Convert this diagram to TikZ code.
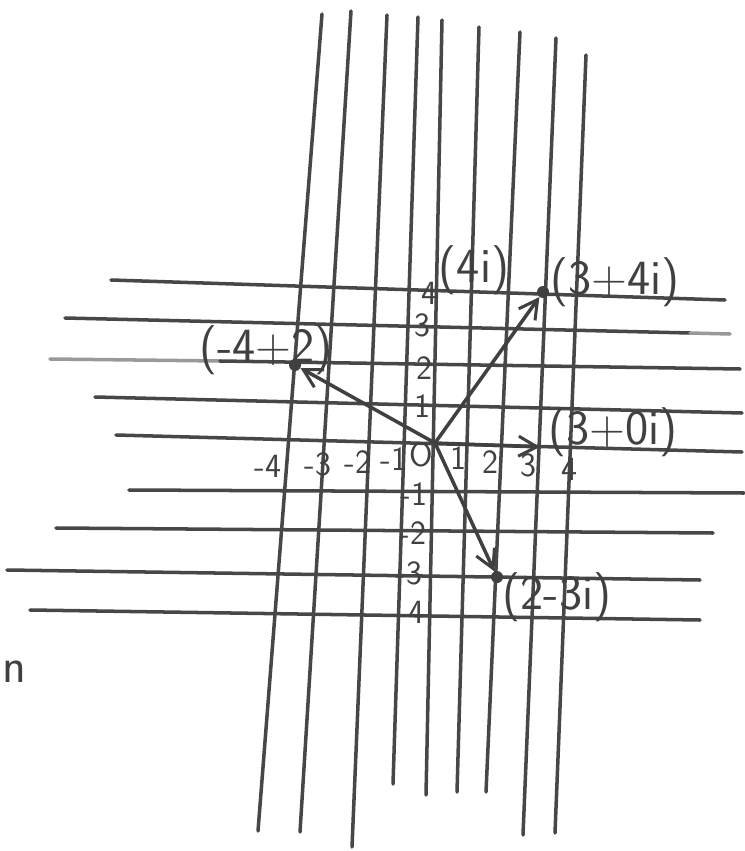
\documentclass[tikz,border=0pt]{standalone}
\usepackage{tikz}
\usetikzlibrary{arrows.meta}

\begin{document}
\begin{tikzpicture}[
  x=0.03cm, y=-0.03cm,
  >={Straight Barb[length=5.5mm,width=6mm,line width=2.6pt]},
  grid/.style={line width=3pt, draw=black!72, line cap=round},
  pale/.style={line width=3pt, draw=black!40, line cap=round},
  e/.style={->, line width=3pt, draw=black!75},
  dot/.style={circle, fill=black!75, inner sep=0pt, minimum size=3.6mm},
  tick/.style={font=\sffamily\fontsize{29}{31}\selectfont, text=black!75, inner sep=0.5pt},
  pt/.style={font=\sffamily\fontsize{42}{46}\selectfont, text=black!75, inner sep=1pt},
]
\useasboundingbox (0,0) rectangle (744,851);
% vertical grid lines
\draw[grid] (322,14) -- (258,831);
\draw[grid] (351,11) -- (300,832);
\draw[grid] (387,15) -- (352,847);
\draw[grid] (418,17) -- (393,784);
\draw[grid] (442,20) -- (426,795);
\draw[grid] (479,27) -- (457,792);
\draw[grid] (520,32) -- (486,792);
\draw[grid] (556,38) -- (523,835);
\draw[grid] (586,55) -- (555,833);
% horizontal grid lines
\draw[grid] (111,280) -- (725,300);
\draw[grid] (65,318) -- (690,333);
\draw[pale] (690,333) -- (730,334);
\draw[pale] (50,359) -- (220,361);
\draw[grid] (220,361) -- (740,369);
\draw[grid] (95,397) -- (742,413);
\draw[grid] (116,435) -- (742,452);
\draw[grid] (129,490) -- (744,493);
\draw[grid] (56,528) -- (713,533);
\draw[grid] (7,570) -- (700,580);
\draw[grid] (30,610) -- (700,620);

% points
\coordinate (O) at (435,443);
\node[dot] (p34)  at (543,292) {};
\node[dot] (pm42) at (295,365) {};
\node[dot] (p2m3) at (497,577) {};
\coordinate (p30) at (540,447);

\draw[e] (O) -- (p34);
\draw[e] (O) -- (pm42);
\draw[e] (O) -- (p30);
\draw[e] (O) -- (p2m3);

\node[pt] (l34)  at (615,282) {(3+4i)};
\node[pt] (lm42) at (266,350) {(-4+2)};
\node[pt] (l30)  at (613,432) {(3+0i)};
\node[pt] (l2m3) at (557,597) {(2-3i)};
\node[pt] (l4i)  at (474,270) {(4i)};

% real axis
\node[tick] (xm4) at (268,466) {-4};
\node[tick] (xm3) at (318,464) {-3};
\node[tick] (xm2) at (358,462) {-2};
\node[tick] (xm1) at (394,459) {-1};
\node[tick] (x0)  at (421,455) {O};
\node[tick] (x1)  at (458,458) {1};
\node[tick] (x2)  at (490,462) {2};
\node[tick] (x3)  at (528,465) {3};
\node[tick] (x4)  at (569,469) {4};
% imaginary axis
\node[tick] (y4)  at (429,293) {4};
\node[tick] (y3)  at (422,325) {3};
\node[tick] (y2)  at (424,368) {2};
\node[tick] (y1)  at (422,406) {1};
\node[tick] (ym1) at (414,494) {-1};
\node[tick] (ym2) at (413,533) {-2};
\node[tick] (ym3) at (409,573) {-3};
\node[tick] (ym4) at (411,612) {-4};

\node[pt] (frag) at (14,672) {n};
\end{tikzpicture}
\end{document}
